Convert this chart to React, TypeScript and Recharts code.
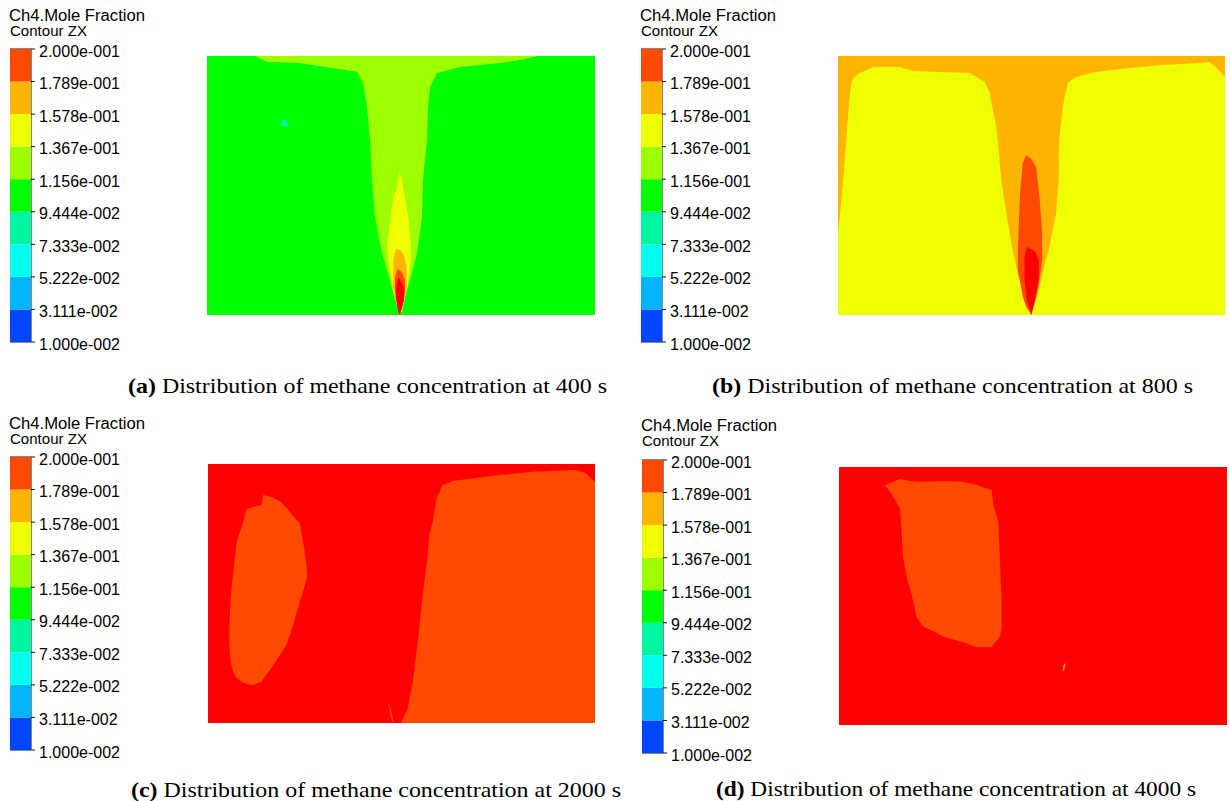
import React from "react";
import { BarChart, Bar, XAxis, YAxis, ReferenceArea, ComposedChart, Area } from "recharts";

// colour scale of the contour legend, bottom -> top
const LEVEL_LABELS = [
  "1.000e-002", "3.111e-002", "5.222e-002", "7.333e-002", "9.444e-002",
  "1.156e-001", "1.367e-001", "1.578e-001", "1.789e-001", "2.000e-001",
];
const LEVEL_TICKS = [0, 1, 2, 3, 4, 5, 6, 7, 8, 9];
const LEVEL_KEYS = ["b0", "b1", "b2", "b3", "b4", "b5", "b6", "b7", "b8"];
const LEVEL_COLORS = [
  "#0046FF", "#00B5FF", "#00FFEC", "#00F5A3", "#00FF00",
  "#9EFF00", "#EEFF00", "#FFB400", "#FF4A00",
];
const ABOVE_MAX = "#FF0000";

const LEGEND_ROW = [Object.fromEntries([["name", "ch4"], ...LEVEL_KEYS.map((k) => [k, 1])])];

// field of view (x across, z down from the top)
const FIELD_W = 388;
const FIELD_H = 259;
const FULL = [[0, 0, 259], [388, 0, 259]];

// (a) 400 s  -- [x, zTop, zBottom]
const A_FUNNEL = [
  [48, 0, 0], [60, 0, 5.7], [93, 0, 7.3], [150, 0, 15.7], [156, 0, 27], [160, 0, 51],
  [163, 0, 84], [165, 0, 124], [168, 0, 161], [175, 0, 197], [183, 0, 224], [193, 0, 259],
  [203, 0, 224], [210, 0, 197], [215, 0, 161], [216, 0, 124], [220, 0, 84], [221, 0, 51],
  [223, 0, 31], [230, 0, 17], [253, 0, 11], [293, 0, 7], [313, 0, 4], [331, 0, 0],
];
const A_YELLOW = [
  [180.3, 189, 197], [183, 166, 221], [186.3, 141, 237], [189.7, 134, 249],
  [192.7, 116, 257], [195, 125, 256], [198, 141, 241], [201.3, 161, 224], [203.7, 184, 204],
];
const A_ORANGE = [[186.3, 204, 231], [189, 193, 247], [193, 194, 256], [197, 199, 244], [199.7, 211, 231]];
const A_REDORANGE = [[188, 222, 234], [190.3, 213, 251], [194.7, 216, 254], [198, 224, 237]];
const A_RED = [[189, 231, 241], [191.3, 222, 256], [193, 223, 259], [197, 232, 244]];
const A_SPOT = [[73, 70, 70], [77.3, 62, 70], [82.3, 70, 70]];

// (b) 800 s
const B_ORANGE = [
  [0, 0, 177], [3.7, 0, 141], [7, 0, 101], [10.3, 0, 57], [12.7, 0, 31], [15.3, 0, 22],
  [22, 0, 17], [35.3, 0, 11], [62, 0, 11], [75.3, 0, 15], [132, 0, 17], [147, 0, 26],
  [152, 0, 37], [155.3, 0, 54], [158.7, 0, 71], [161, 0, 94], [163.7, 0, 124], [168.7, 0, 157],
  [173.7, 0, 187], [178.7, 0, 211], [185.3, 0, 237], [193.7, 0, 259], [198.7, 0, 244],
  [205.3, 0, 217], [212, 0, 191], [218.7, 0, 157], [221.3, 0, 124], [222, 0, 84],
  [225.3, 0, 51], [230.3, 0, 27], [238.7, 0, 21], [258.7, 0, 16], [292, 0, 12],
  [325.3, 0, 9], [362, 0, 7], [372, 0, 6], [378.7, 0, 11], [388, 0, 21],
];
const B_REDORANGE = [
  [180.3, 191, 214], [182.7, 134, 227], [185.3, 107, 241], [188.7, 99, 251],
  [193.7, 103, 259], [198.7, 111, 241], [202, 141, 224], [204.7, 177, 204],
];
const B_RED = [[187, 201, 224], [189.3, 191, 244], [193.7, 193, 259], [198, 196, 241], [201.3, 204, 224]];

// (c) 2000 s
const C_LEFT = [
  [21.3, 164, 178], [22.7, 134, 198], [25.3, 108, 208], [28.7, 78, 214], [35.3, 58, 219],
  [38.7, 45, 220], [45.3, 43, 221], [53.7, 41, 218], [55.3, 31, 215], [63.7, 33, 204],
  [72, 37, 191], [78.7, 44, 181], [85.3, 52, 161], [92, 59, 138], [97, 88, 122], [99.3, 108, 113],
];
const C_RIGHT = [
  [193.7, 259, 259], [200.3, 244, 259], [205.3, 218, 259], [210.3, 178, 259], [215.3, 131, 259],
  [220.3, 91, 259], [222, 71, 259], [225.3, 58, 259], [229.3, 34, 259], [235.3, 21, 259],
  [245.3, 17, 259], [292, 11, 259], [325.3, 7.7, 259], [368.7, 6, 259], [378.7, 9.3, 259],
  [388, 17.7, 259],
];
const C_SLIVER = [[181, 238, 240], [183.7, 247, 255], [186, 258, 259]];

// (d) 4000 s
const D_BLOB = [
  [46, 18, 18.7], [51, 16.3, 24.7], [61, 12, 41.3], [62.7, 12.3, 64.7], [63.7, 12.7, 88],
  [67.7, 13.3, 111], [72.7, 14.3, 128], [77.7, 14.7, 151], [84.3, 14.7, 160], [106, 14, 171],
  [124.3, 14.7, 176], [137.7, 18, 181], [152.7, 23, 181], [154.3, 38, 178], [159.3, 55, 173],
  [161, 95, 170], [162.7, 138, 161],
];
const D_SPOT = [[223.7, 204, 205], [225, 198, 204], [226.3, 197, 199]];

const toRange = (pts: number[][]) => pts.map(([x, lo, hi]) => ({ x, z: [lo, hi] }));

interface Layer {
  pts: number[][];
  color: string;
}

const PANELS = [
  {
    id: "a", bar: { left: 9.5, top: 49 }, field: { left: 207, top: 56, w: 388, h: 259 },
    title: { x: 9, y: 21 },
    caption: { x: 128, y: 393, w: 479, tag: "(a)", text: " Distribution of methane concentration at 400 s" },
    layers: [
      { pts: FULL, color: LEVEL_COLORS[4] }, { pts: A_FUNNEL, color: LEVEL_COLORS[5] },
      { pts: A_SPOT, color: LEVEL_COLORS[3] }, { pts: A_YELLOW, color: LEVEL_COLORS[6] },
      { pts: A_ORANGE, color: LEVEL_COLORS[7] }, { pts: A_REDORANGE, color: LEVEL_COLORS[8] },
      { pts: A_RED, color: ABOVE_MAX },
    ] as Layer[],
  },
  {
    id: "b", bar: { left: 640.5, top: 49 }, field: { left: 838, top: 56, w: 387, h: 259 },
    title: { x: 640, y: 21 },
    caption: { x: 712, y: 393, w: 481, tag: "(b)", text: " Distribution of methane concentration at 800 s" },
    layers: [
      { pts: FULL, color: LEVEL_COLORS[6] }, { pts: B_ORANGE, color: LEVEL_COLORS[7] },
      { pts: B_REDORANGE, color: LEVEL_COLORS[8] }, { pts: B_RED, color: ABOVE_MAX },
    ] as Layer[],
  },
  {
    id: "c", bar: { left: 9.5, top: 457 }, field: { left: 208, top: 464, w: 387, h: 259 },
    title: { x: 9, y: 429 },
    caption: { x: 131, y: 797, w: 490, tag: "(c)", text: " Distribution of methane concentration at 2000 s" },
    layers: [
      { pts: FULL, color: ABOVE_MAX }, { pts: C_LEFT, color: LEVEL_COLORS[8] },
      { pts: C_RIGHT, color: LEVEL_COLORS[8] }, { pts: C_SLIVER, color: LEVEL_COLORS[8] },
    ] as Layer[],
  },
  {
    id: "d", bar: { left: 641.5, top: 460 }, field: { left: 839, top: 467, w: 388, h: 258 },
    title: { x: 641, y: 431 },
    caption: { x: 716, y: 796, w: 480, tag: "(d)", text: " Distribution of methane concentration at 4000 s" },
    layers: [
      { pts: FULL, color: ABOVE_MAX }, { pts: D_BLOB, color: LEVEL_COLORS[8] },
      { pts: D_SPOT, color: LEVEL_COLORS[7] },
    ] as Layer[],
  },
];

const BAR_W = 21;
const BAR_H = 293;
const AXIS_W = 130;
const SANS = "'Liberation Sans', Arial, sans-serif";
const SERIF = "'Liberation Serif', 'Times New Roman', serif";

function LevelTick(props: any) {
  const { x, y, payload } = props;
  return (
    <text x={x} y={y} dy={7.5} fontSize={16} fontFamily={SANS} fill="#000" textAnchor="start">
      {LEVEL_LABELS[payload.value]}
    </text>
  );
}

function ColorBar({ left, top }: { left: number; top: number }) {
  return (
    <div style={{ position: "absolute", left, top: top - 10 }}>
      <BarChart
        width={BAR_W + AXIS_W}
        height={BAR_H + 20}
        data={LEGEND_ROW}
        margin={{ top: 10, bottom: 10, left: 0, right: 0 }}
        barCategoryGap={0}
      >
        <XAxis dataKey="name" hide />
        <YAxis
          type="number"
          orientation="right"
          domain={[0, 9]}
          ticks={LEVEL_TICKS}
          interval={0}
          width={AXIS_W}
          axisLine={false}
          tickLine={{ stroke: "#111" }}
          tickSize={4}
          tickMargin={4}
          tick={LevelTick}
        />
        {LEVEL_KEYS.map((k, i) => (
          <Bar key={k} dataKey={k} stackId="lvl" fill={LEVEL_COLORS[i]} isAnimationActive={false} />
        ))}
        <ReferenceArea y1={0} y2={9} fill="none" stroke="#111" strokeWidth={1} ifOverflow="visible" />
      </BarChart>
    </div>
  );
}

function Field({ left, top, w, h, layers }: { left: number; top: number; w: number; h: number; layers: Layer[] }) {
  return (
    <div style={{ position: "absolute", left, top }}>
      <ComposedChart width={w} height={h} margin={{ top: 0, right: 0, bottom: 0, left: 0 }}>
        <XAxis type="number" dataKey="x" domain={[0, FIELD_W]} allowDataOverflow hide />
        <YAxis type="number" domain={[0, FIELD_H]} allowDataOverflow reversed hide />
        {layers.map((l, i) => (
          <Area
            key={i}
            data={toRange(l.pts)}
            dataKey="z"
            type="linear"
            stroke="none"
            fill={l.color}
            fillOpacity={1}
            dot={false}
            activeDot={false}
            isAnimationActive={false}
          />
        ))}
      </ComposedChart>
    </div>
  );
}

export default function App() {
  return (
    <div style={{ position: "absolute", left: 0, top: 0, width: 1230, height: 801, background: "#fff", overflow: "hidden" }}>
      {PANELS.map((p) => (
        <React.Fragment key={p.id}>
          <ColorBar left={p.bar.left} top={p.bar.top} />
          <Field left={p.field.left} top={p.field.top} w={p.field.w} h={p.field.h} layers={p.layers} />
        </React.Fragment>
      ))}
      <svg width={1230} height={801} style={{ position: "absolute", left: 0, top: 0, pointerEvents: "none" }}>
        {PANELS.map((p) => (
          <g key={p.id}>
            <text x={p.title.x} y={p.title.y} fontSize={16} fontFamily={SANS} textLength={136} lengthAdjust="spacingAndGlyphs">
              Ch4.Mole Fraction
            </text>
            <text x={p.title.x + 1} y={p.title.y + 14.5} fontSize={14} fontFamily={SANS} textLength={77} lengthAdjust="spacingAndGlyphs">
              Contour ZX
            </text>
            <text
              x={p.caption.x}
              y={p.caption.y}
              fontSize={21}
              fontFamily={SERIF}
              textLength={p.caption.w}
              lengthAdjust="spacingAndGlyphs"
            >
              <tspan fontWeight="bold">{p.caption.tag}</tspan>
              {p.caption.text}
            </text>
          </g>
        ))}
      </svg>
    </div>
  );
}
